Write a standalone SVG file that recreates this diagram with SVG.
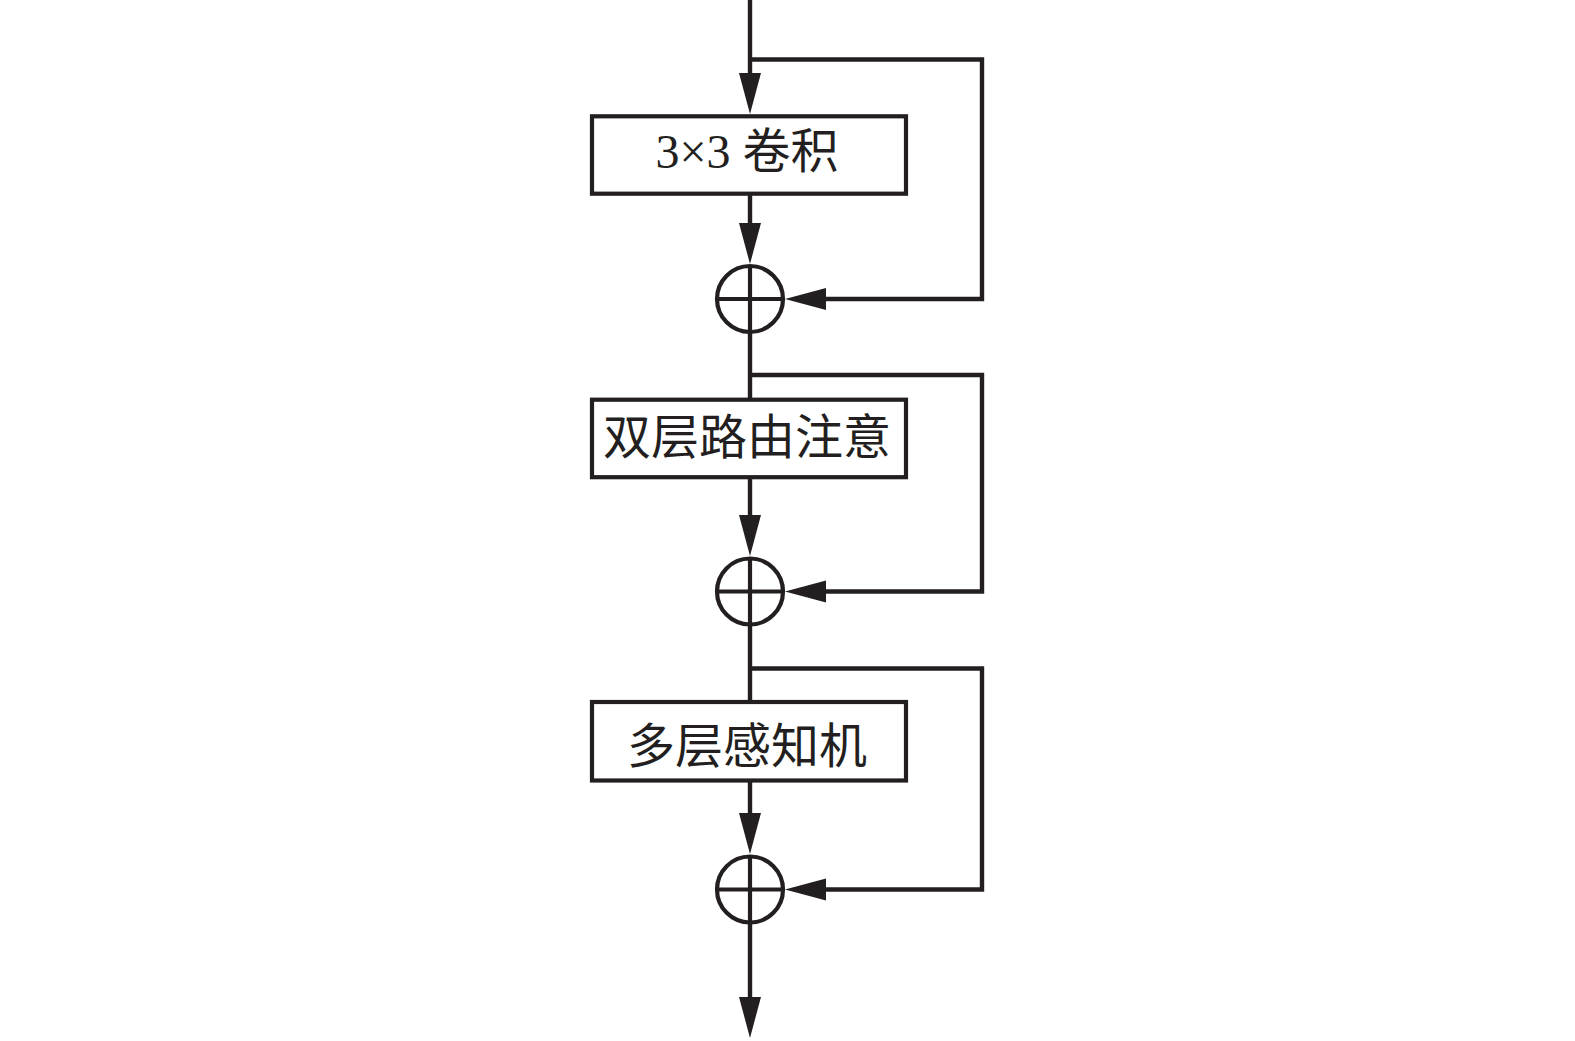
<svg xmlns="http://www.w3.org/2000/svg" width="1575" height="1041" viewBox="0 0 1575 1041">
<style>
.box{fill:#fff;stroke:#231f20;stroke-width:4.2}
.ln{fill:none;stroke:#231f20;stroke-width:4.4}
.sum{fill:none;stroke:#231f20;stroke-width:4.2}
.lbl{font-family:"Liberation Serif","Noto Sans CJK SC",serif;font-size:48px;fill:#231f20;text-anchor:middle}
</style>
<defs>
<marker id="ah" markerUnits="userSpaceOnUse" markerWidth="42" markerHeight="24" viewBox="0 0 42 24" refX="21" refY="12" orient="auto">
<path d="M0,1 L41,12 L0,23 Z" fill="#231f20"/>
</marker>
</defs>
<rect width="1575" height="1041" fill="#fff"/>
<g id="connectors">
<line class="ln" x1="750" y1="0" x2="750" y2="94" marker-end="url(#ah)"/>
<polyline class="ln" points="750,59.5 982,59.5 982,299 805,299" marker-end="url(#ah)"/>
<line class="ln" x1="750" y1="195" x2="750" y2="244" marker-end="url(#ah)"/>
<line class="ln" x1="750" y1="332" x2="750" y2="399"/>
<polyline class="ln" points="750,375 982,375 982,591.5 805,591.5" marker-end="url(#ah)"/>
<line class="ln" x1="750" y1="478" x2="750" y2="536" marker-end="url(#ah)"/>
<line class="ln" x1="750" y1="624" x2="750" y2="701"/>
<polyline class="ln" points="750,668.5 982,668.5 982,889.5 805,889.5" marker-end="url(#ah)"/>
<line class="ln" x1="750" y1="781" x2="750" y2="834" marker-end="url(#ah)"/>
<line class="ln" x1="750" y1="922" x2="750" y2="1018" marker-end="url(#ah)"/>
</g>
<g id="conv">
<rect class="box" x="592" y="116.3" width="314" height="77.4"/>
<text class="lbl" x="747" y="168">3×3 卷积</text>
</g>
<g id="sum1">
<circle class="sum" cx="750" cy="299" r="33"/>
<line class="sum" x1="717" y1="299" x2="783" y2="299"/>
<line class="sum" x1="750" y1="266" x2="750" y2="332"/>
</g>
<g id="attn">
<rect class="box" x="592" y="399.7" width="314" height="77.5"/>
<text class="lbl" x="747" y="454">双层路由注意</text>
</g>
<g id="sum2">
<circle class="sum" cx="750" cy="591.5" r="33"/>
<line class="sum" x1="717" y1="591.5" x2="783" y2="591.5"/>
<line class="sum" x1="750" y1="558.5" x2="750" y2="624.5"/>
</g>
<g id="mlp">
<rect class="box" x="592" y="702" width="314" height="78.5"/>
<text class="lbl" x="747" y="763">多层感知机</text>
</g>
<g id="sum3">
<circle class="sum" cx="750" cy="889.5" r="33"/>
<line class="sum" x1="717" y1="889.5" x2="783" y2="889.5"/>
<line class="sum" x1="750" y1="856.5" x2="750" y2="922.5"/>
</g>
</svg>
